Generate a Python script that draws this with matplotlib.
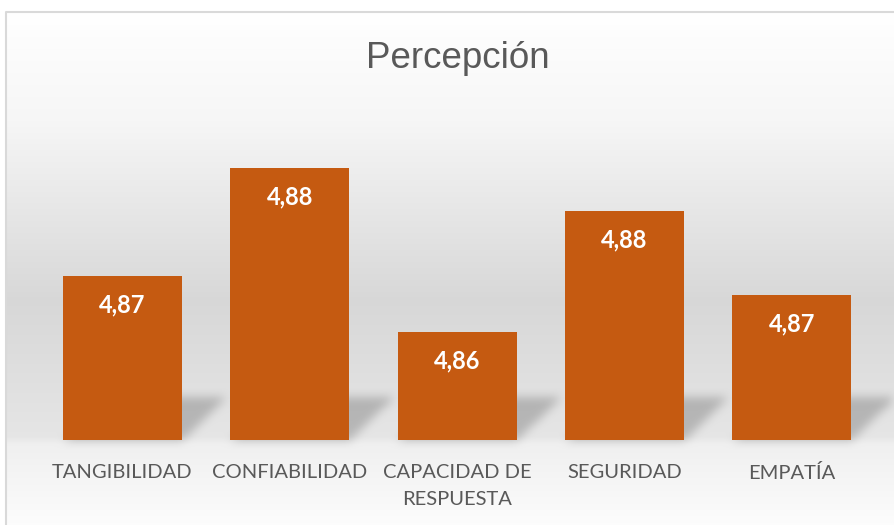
import numpy as np
import matplotlib
matplotlib.use('Agg')
import matplotlib.pyplot as plt

categorias = ['TANGIBILIDAD', 'CONFIABILIDAD', 'CAPACIDAD DE\nRESPUESTA', 'SEGURIDAD', 'EMPATÍA']
valores = [4.8689, 4.8813, 4.8624, 4.8763, 4.8667]
titulo = 'Percepción'

W, H, DPI = 894, 525, 100
fig = plt.figure(figsize=(W / DPI, H / DPI), dpi=DPI)

# background: grey gradient + border lines
bg = fig.add_axes([0, 0, 1, 1], zorder=-5)
bg.set_xlim(0, W)
bg.set_ylim(H, 0)
bg.axis('off')

ax = fig.add_axes([0.0434, 0.1619, 0.936, 0.6629])
ax.set_xlim(-0.5, len(categorias) - 0.5)
ax.set_ylim(4.85, 4.89)

rows = np.arange(H)
grad = np.interp(rows, [12, 120, 300, 436, 444, 525], [1.0, 0.965, 0.845, 0.90, 0.94, 0.99])
img = np.repeat(grad[:, None], W, axis=1)

# soft shadow behind each bar (parallelogram, blurred)
ancho = 0.71
shadow = np.zeros((H, W))
xx, yy = np.meshgrid(np.arange(W), rows)
d, h = 45, 44
for i, v in enumerate(valores):
    x0, base = ax.transData.transform((i - ancho / 2, 4.85))
    x1, _ = ax.transData.transform((i + ancho / 2, 4.85))
    base = H - base
    t = (base - yy) / h
    m = (t >= 0) & (t <= 1) & (xx >= x0 + d * t) & (xx <= x1 + d * t)
    shadow[m] = 1.0

def blur(a, r):
    k = np.ones(2 * r + 1) / (2 * r + 1)
    a = np.apply_along_axis(lambda c: np.convolve(c, k, mode='same'), 0, a)
    a = np.apply_along_axis(lambda c: np.convolve(c, k, mode='same'), 1, a)
    return a

shadow = blur(blur(shadow, 5), 5)
img = img - 0.18 * shadow
img[:12, :] = 1.0
img[:, :6] = 1.0
rgb = np.dstack([img, img, img])
bg.imshow(rgb, extent=[0, W, H, 0], aspect='auto', interpolation='bilinear')
bg.plot([6, 6, W], [H, 12, 12], color='#d9d9d9', lw=1.5)

ax.set_facecolor('none')
x = np.arange(len(categorias))
ax.bar(x, [v - 4.85 for v in valores], bottom=4.85, width=ancho, color='#C55A11', zorder=3)

for i, v in enumerate(valores):
    ax.annotate(f'{v:.2f}'.replace('.', ','), (i, v), xytext=(0, -21), textcoords='offset points',
                ha='center', va='center', color='white', fontsize=17, fontweight='bold',
                family='Lato', zorder=4)

ax.set_xticks(x)
ax.set_xticklabels(categorias, fontsize=14.5, color='#595959', family='Lato', linespacing=1.75)
ax.tick_params(axis='x', length=0, pad=17)
ax.set_yticks([])
for s in ax.spines.values():
    s.set_visible(False)

fig.text(458 / W, 1 - 58 / H, titulo, ha='center', va='center', fontsize=26.5,
         color='#595959', family='Liberation Sans')

fig.savefig('out.png', dpi=DPI)
